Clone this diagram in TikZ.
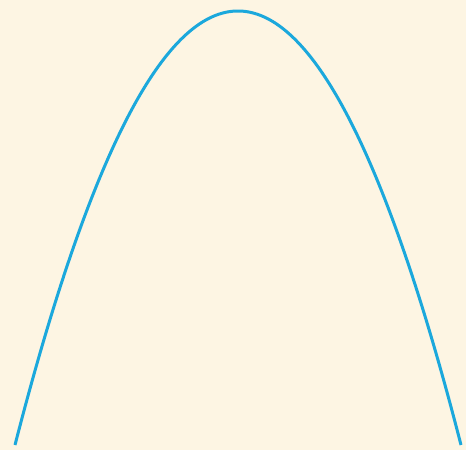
\documentclass[tikz,border=0pt]{standalone}
\definecolor{bgcream}{HTML}{FDF5E3}
\definecolor{curveblue}{HTML}{1BA8DC}
\begin{document}
\begin{tikzpicture}[x=1pt,y=-1pt,curve/.style={draw=curveblue,line width=3pt}]
\fill[bgcream] (0,0) rectangle (466,450);
\useasboundingbox (0,0) rectangle (466,450);
\draw[curve,domain=15:461,samples=200,smooth] plot (\x,{11+434*((\x-238)/223)^2});
\end{tikzpicture}
\end{document}
